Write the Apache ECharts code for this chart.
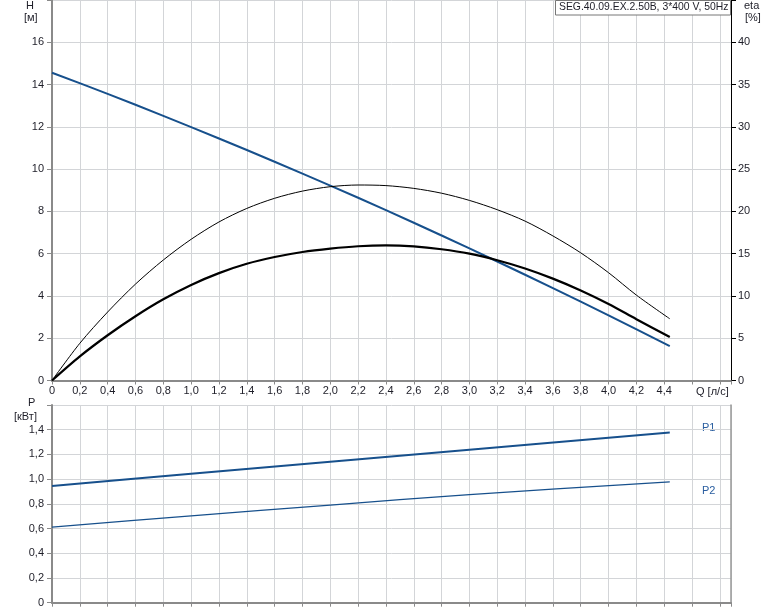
<!DOCTYPE html>
<html><head><meta charset="utf-8">
<script src="https://cdn.jsdelivr.net/npm/echarts@6/dist/echarts.min.js"></script>
<style>html,body{margin:0;padding:0;background:#fff}#c{width:774px;height:611px}</style>
</head><body><div id="c"></div>
<script>
// ---- data ----
const Q_H = [0, 0.4, 0.8, 1.2, 1.6, 2.0, 2.4, 2.8, 3.2, 3.6, 4.0, 4.44];
const H_VALUES = [14.56, 13.56, 12.52, 11.45, 10.35, 9.22, 8.06, 6.86, 5.63, 4.37, 3.08, 1.63];
const Q_ETA = [0, 0.2, 0.4, 0.6, 0.8, 1.0, 1.2, 1.4, 1.6, 1.8, 2.0, 2.2, 2.4, 2.6, 2.8, 3.0, 3.2, 3.4, 3.6, 3.8, 4.0, 4.2, 4.44];
const ETA_THIN = [0, 4.4, 8.1, 11.4, 14.25, 16.7, 18.75, 20.35, 21.55, 22.4, 22.92, 23.12, 23.05, 22.72, 22.15, 21.3, 20.2, 18.85, 17.1, 15.1, 12.75, 10.1, 7.3];
const ETA_THICK = [0, 2.85, 5.35, 7.6, 9.6, 11.3, 12.7, 13.8, 14.6, 15.2, 15.6, 15.88, 15.98, 15.86, 15.52, 15.0, 14.22, 13.25, 12.05, 10.65, 9.05, 7.25, 5.14];
const Q_P = [0, 1.0, 2.0, 3.0, 4.44];
const P1_VALUES = [0.945, 1.043, 1.14, 1.237, 1.377];
const P2_VALUES = [0.611, 0.703, 0.79, 0.875, 0.978];
const TITLE = 'SEG.40.09.EX.2.50B, 3*400 V, 50Hz';

const zip = (xs, ys) => xs.map((x, i) => [x, ys[i]]);
const FONT = "'Liberation Sans', Arial, sans-serif";
const TXT = '#1e1e28';
const BLUE = '#17508c';
const GRID = '#d3d5d8';
const AX = '#8a8a8a';
const comma = (v, dec) => v === 0 ? '0' : v.toFixed(dec).replace('.', ',');

const chart = echarts.init(document.getElementById('c'), null, {renderer: 'canvas'});
const xBase = {
  type: 'value', min: 0, max: 4.88, interval: 0.2,
  splitLine: {show: true, lineStyle: {color: GRID, width: 1}},
  axisLine: {show: true, onZero: false, lineStyle: {color: AX, width: 2}},
  axisTick: {show: true, length: 4, lineStyle: {color: AX}},
};
chart.setOption({
  animation: false,
  grid: [
    {left: 52, top: 0, width: 679, height: 380.5},
    {left: 52, top: 405, width: 679, height: 197.7}
  ],
  xAxis: [
    Object.assign({}, xBase, {gridIndex: 0,
      axisLabel: {fontFamily: FONT, fontSize: 11, color: TXT, margin: 5,
        formatter: v => v > 4.45 ? '' : comma(v, 1)}}),
    Object.assign({}, xBase, {gridIndex: 1, axisLabel: {show: false}})
  ],
  yAxis: [
    {type: 'value', gridIndex: 0, min: 0, max: 18, interval: 2, position: 'left',
      splitLine: {show: true, lineStyle: {color: GRID}},
      axisLine: {show: true, onZero: false, lineStyle: {color: AX, width: 2}},
      axisTick: {show: true, length: 5, lineStyle: {color: AX}},
      axisLabel: {fontFamily: FONT, fontSize: 11, color: TXT, margin: 8,
        formatter: v => v > 17 ? '' : String(v)}},
    {type: 'value', gridIndex: 0, min: 0, max: 45, interval: 5, position: 'right',
      splitLine: {show: false},
      axisLine: {show: true, onZero: false, lineStyle: {color: '#000', width: 1}},
      axisTick: {show: true, length: 5, lineStyle: {color: '#000'}},
      axisLabel: {fontFamily: FONT, fontSize: 11, color: TXT, margin: 7,
        formatter: v => v > 42 ? '' : String(v)}},
    {type: 'value', gridIndex: 1, min: 0, max: 1.6, interval: 0.2, position: 'left',
      splitLine: {show: true, lineStyle: {color: GRID}},
      axisLine: {show: true, onZero: false, lineStyle: {color: AX, width: 2}},
      axisTick: {show: true, length: 5, lineStyle: {color: AX}},
      axisLabel: {fontFamily: FONT, fontSize: 11, color: TXT, margin: 8,
        formatter: v => v > 1.5 ? '' : comma(v, 1)}},
    {type: 'value', gridIndex: 1, min: 0, max: 1.6, interval: 0.2, position: 'right',
      splitLine: {show: false},
      axisLine: {show: true, onZero: false, lineStyle: {color: '#999', width: 1.5}},
      axisTick: {show: false}, axisLabel: {show: false}}
  ],
  series: [
    {type: 'line', name: 'H', xAxisIndex: 0, yAxisIndex: 0, data: zip(Q_H, H_VALUES),
      smooth: 0.3, showSymbol: false, lineStyle: {color: BLUE, width: 2}},
    {type: 'line', name: 'eta1', xAxisIndex: 0, yAxisIndex: 1, data: zip(Q_ETA, ETA_THIN),
      smooth: 0.3, showSymbol: false, lineStyle: {color: '#000', width: 1}},
    {type: 'line', name: 'eta2', xAxisIndex: 0, yAxisIndex: 1, data: zip(Q_ETA, ETA_THICK),
      smooth: 0.3, showSymbol: false, lineStyle: {color: '#000', width: 2.2}},
    {type: 'line', name: 'P1', xAxisIndex: 1, yAxisIndex: 2, data: zip(Q_P, P1_VALUES),
      smooth: 0.3, showSymbol: false, lineStyle: {color: BLUE, width: 2}},
    {type: 'line', name: 'P2', xAxisIndex: 1, yAxisIndex: 2, data: zip(Q_P, P2_VALUES),
      smooth: 0.3, showSymbol: false, lineStyle: {color: BLUE, width: 1.3}}
  ],
  graphic: [
    {type: 'text', left: 26, top: 0, style: {text: 'H', font: '11px ' + FONT, fill: TXT}},
    {type: 'text', left: 24, top: 12, style: {text: '[м]', font: '11px ' + FONT, fill: TXT}},
    {type: 'text', left: 744, top: 0, style: {text: 'eta', font: '11px ' + FONT, fill: TXT}},
    {type: 'text', left: 745, top: 12, style: {text: '[%]', font: '11px ' + FONT, fill: TXT}},
    {type: 'text', left: 696, top: 386, style: {text: 'Q [л/с]', font: '11px ' + FONT, fill: TXT}},
    {type: 'text', left: 28, top: 397, style: {text: 'P', font: '11px ' + FONT, fill: TXT}},
    {type: 'text', left: 14, top: 411, style: {text: '[кВт]', font: '11px ' + FONT, fill: TXT}},
    {type: 'text', left: 702, top: 422, style: {text: 'P1', font: '11px ' + FONT, fill: '#2a5ea0'}},
    {type: 'text', left: 702, top: 485, style: {text: 'P2', font: '11px ' + FONT, fill: '#2a5ea0'}},
    {type: 'rect', shape: {x: 555.5, y: 0.5, width: 175, height: 14.5}, style: {fill: '#fff', stroke: '#777', lineWidth: 1}, z: 100},
    {type: 'text', left: 559, top: 2, z: 101, style: {text: TITLE, font: '10.4px ' + FONT, fill: TXT}}
  ]
});
</script></body></html>
